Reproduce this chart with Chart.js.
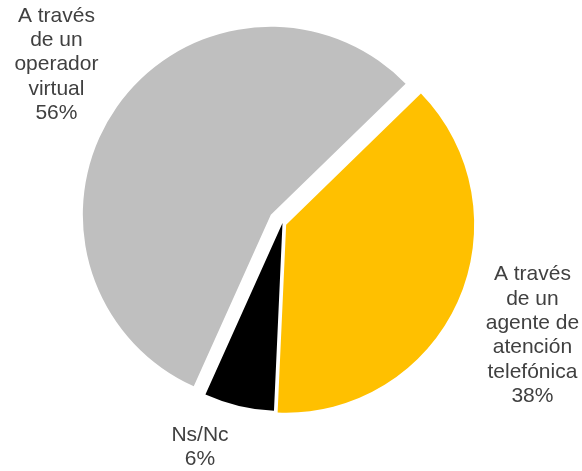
<!DOCTYPE html>
<html>
<head>
<meta charset="utf-8">
<script src="https://cdn.jsdelivr.net/npm/chart.js@4/dist/chart.umd.min.js"></script>
<style>
  html, body { margin: 0; padding: 0; background: #ffffff; }
  #wrap { width: 582px; height: 471px; }
</style>
</head>
<body>
<div id="wrap"><canvas id="pie" width="582" height="471"></canvas></div>
<script>
// Categories (one entry per slice, split into display lines)
const categories = [
  ['A través', 'de un', 'operador', 'virtual'],
  ['A través', 'de un', 'agente de', 'atención', 'telefónica'],
  ['Ns/Nc']
];
// Share of answers, in percent
const shares = [56, 38, 6];

// Styling
const sliceColors = ['#BFBFBF', '#FFC000', '#000000'];
const explode = [57, 16, 0];          // Chart.js offset (slice moves offset/4 px)
const labelRadius = [276, 274, 239];  // distance of each label block from the pie centre
const labelTurn = [0, 0, 6.8];        // extra angle (deg) for the label anchor
const lineHeight = 24.4;

// Chart.js v4 grows the radius of exploded slices; keep every wedge the same size.
const evenRadius = {
  id: 'evenRadius',
  afterDatasetUpdate(chart, args) {
    args.meta.data.forEach(arc => {
      const o = ((arc.options && arc.options.offset) || 0) / 4;
      if (!o) return;
      const fix = 1 - Math.sin(Math.min(Math.PI, arc.circumference));
      const grow = o * fix;
      const R = arc.outerRadius;
      arc.outerRadius = R - grow;
      const widen = (grow / Math.PI) / R / 2;
      arc.startAngle -= widen;
      arc.endAngle += widen;
    });
  }
};

// Category name and percentage outside each slice
const sliceLabels = {
  id: 'sliceLabels',
  afterDatasetsDraw(chart) {
    const ctx = chart.ctx;
    const meta = chart.getDatasetMeta(0);
    ctx.save();
    ctx.font = '21px "Liberation Sans", Arial, sans-serif';
    ctx.fillStyle = '#404040';
    ctx.textAlign = 'center';
    ctx.textBaseline = 'middle';
    meta.data.forEach((arc, i) => {
      const lines = [...categories[i], shares[i] + '%'];
      const a = (arc.startAngle + arc.endAngle) / 2 + labelTurn[i] * Math.PI / 180;
      const x = arc.x + Math.cos(a) * labelRadius[i];
      const y = arc.y + Math.sin(a) * labelRadius[i];
      lines.forEach((t, k) => {
        ctx.fillText(t, x, y + (k - (lines.length - 1) / 2) * lineHeight);
      });
    });
    ctx.restore();
  }
};

new Chart(document.getElementById('pie'), {
  type: 'pie',
  data: {
    labels: categories,
    datasets: [{
      data: shares,
      backgroundColor: sliceColors,
      borderWidth: 0,
      offset: explode
    }]
  },
  options: {
    responsive: false,
    animation: false,
    events: [],
    rotation: 204.2,
    radius: 188,
    layout: { padding: { left: 0, right: 17, top: 0, bottom: 25 } },
    plugins: {
      legend: { display: false },
      tooltip: { enabled: false }
    }
  },
  plugins: [evenRadius, sliceLabels]
});
</script>
</body>
</html>
